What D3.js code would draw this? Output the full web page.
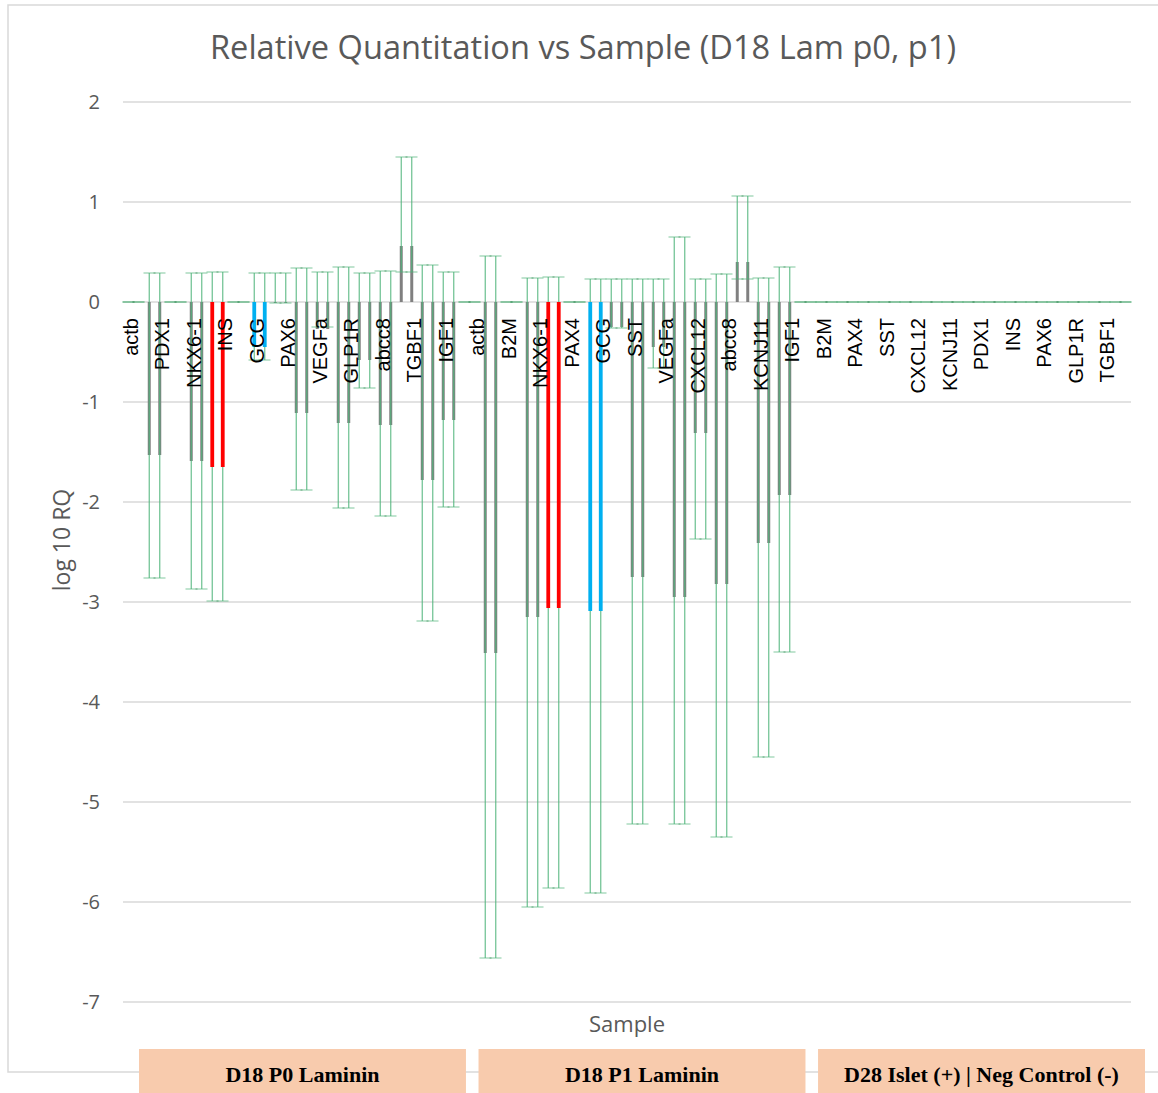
<!DOCTYPE html>
<html>
<head>
<meta charset="utf-8">
<script src="https://cdn.jsdelivr.net/npm/d3@7"></script>
<style>
  body { margin: 0; background: #fff; }
  svg { display: block; }
</style>
</head>
<body>
<svg id="chart" width="1158" height="1093"></svg>
<script>
// samples are the categories, genes are the series (16 per sample)
const samples = ["D18 P0 Laminin", "D18 P1 Laminin", "D28 Islet (+) | Neg Control (-)"];
const genes = ["actb", "PDX1", "B2M", "NKX6-1", "INS", "PAX4", "GCG", "SST",
               "PAX6", "VEGFa", "CXCL12", "GLP1R", "abcc8", "KCNJ11", "TGBF1", "IGF1"];

// log10 RQ and the RQ min / max ends of the error bars
const p0Value = [0, -1.53, 0, -1.59, -1.65, 0, -0.45, -0.01, -1.11, -0.27, -1.21, -0.58, -1.23, 0.56, -1.78, -1.18];
const p0Max   = [0, 0.29, 0, 0.29, 0.30, 0, 0.29, 0.29, 0.34, 0.30, 0.35, 0.29, 0.31, 1.45, 0.37, 0.30];
const p0Min   = [0, -2.76, 0, -2.87, -2.99, 0, -0.58, -0.01, -1.88, -0.25, -2.06, -0.86, -2.14, 0.30, -3.19, -2.05];

const p1Value = [0, -3.51, 0, -3.15, -3.06, 0, -3.09, -0.25, -2.75, -0.45, -2.95, -1.31, -2.82, 0.40, -2.41, -1.93];
const p1Max   = [0, 0.46, 0, 0.24, 0.25, 0, 0.23, 0.23, 0.23, 0.23, 0.65, 0.23, 0.28, 1.06, 0.24, 0.35];
const p1Min   = [0, -6.56, 0, -6.05, -5.86, 0, -5.91, -0.26, -5.22, -0.66, -5.22, -2.37, -5.35, 0.23, -4.55, -3.50];

const ctrlValue = [0, 0, 0, 0, 0, 0, 0, 0, 0, 0, 0, 0, 0, 0, 0, 0];
const ctrlMax   = [0, 0, 0, 0, 0, 0, 0, 0, 0, 0, 0, 0, 0, 0, 0, 0];
const ctrlMin   = [0, 0, 0, 0, 0, 0, 0, 0, 0, 0, 0, 0, 0, 0, 0, 0];

// gene labels along the axis
const geneLabels = ["actb", "PDX1", "NKX6-1", "INS", "GCG", "PAX6", "VEGFa", "GLP1R", "abcc8", "TGBF1", "IGF1",
                    "actb", "B2M", "NKX6-1", "PAX4", "GCG", "SST", "VEGFa", "CXCL12", "abcc8", "KCNJ11", "IGF1",
                    "B2M", "PAX4", "SST", "CXCL12", "KCNJ11", "PDX1", "INS", "PAX6", "GLP1R", "TGBF1"];

const yTicks = [2, 1, 0, -1, -2, -3, -4, -5, -6, -7];

const values = [p0Value, p1Value, ctrlValue];
const maxes = [p0Max, p1Max, ctrlMax];
const mins = [p0Min, p1Min, ctrlMin];

let rows = [];
samples.forEach((s, i) => {
	genes.forEach((g, j) => {
		rows.push({sample: s, gene: g, value: values[i][j], hi: maxes[i][j], lo: mins[i][j]});
	});
});

const svg = d3.select("#chart");

const x0 = d3.scaleBand()
	.domain(samples)
	.range([123, 1131]);

const x1 = d3.scaleBand()
	.domain(genes)
	.range([0, x0.bandwidth()])
	.paddingInner(0.5)
	.paddingOuter(0.25);

const y = d3.scaleLinear()
	.domain([-7, 2])
	.range([1002, 102]);

const xLabel = d3.scaleBand()
	.domain(d3.range(geneLabels.length))
	.range([123, 1131]);

const boxX = d3.scaleBand()
	.domain(samples)
	.range([139, 1145])
	.paddingInner(0.037);

const edgeColor = g => g === "INS" ? "#ff0000" : g === "GCG" ? "#00b0f0" : "#808080";
const isGray = g => g !== "INS" && g !== "GCG";

// chart border
svg.append("rect")
	.attr("x", 8).attr("y", 5)
	.attr("width", 1170).attr("height", 1067)
	.attr("fill", "none")
	.attr("stroke", "#d9d9d9")
	.attr("stroke-width", 1.5);

// title
svg.append("text")
	.attr("x", 583).attr("y", 59)
	.attr("text-anchor", "middle")
	.attr("textLength", 746)
	.attr("lengthAdjust", "spacingAndGlyphs")
	.style("font-family", "'Open Sans', sans-serif")
	.style("font-size", "32px")
	.style("fill", "#595959")
	.text("Relative Quantitation vs Sample (D18 Lam p0, p1)");

// gridlines
svg.append("g")
	.selectAll("line")
	.data(yTicks)
	.enter()
	.append("line")
	.attr("x1", 123).attr("x2", 1131)
	.attr("y1", d => y(d)).attr("y2", d => y(d))
	.attr("stroke", "#d9d9d9")
	.attr("stroke-width", 1.5);

// y axis labels
const yAxis = svg.append("g")
	.attr("transform", "translate(123,0)")
	.call(d3.axisLeft(y).tickValues(yTicks).tickFormat(d => String(d)).tickSize(0).tickPadding(23));
yAxis.select(".domain").remove();
yAxis.selectAll("text")
	.style("font-family", "'Open Sans', sans-serif")
	.style("font-size", "20px")
	.style("fill", "#595959");

let eb = svg.append("g")
	.selectAll("g")
	.data(rows)
	.enter()
	.append("g")
	.attr("transform", d => "translate(" + (x0(d.sample) + x1(d.gene)) + ",0)");

const edges = [0, x1.bandwidth()];

// gray bar edges (under the error lines)
edges.forEach(dx => {
	eb.filter(d => d.value !== 0 && isGray(d.gene))
		.append("line")
		.attr("x1", dx).attr("x2", dx)
		.attr("y1", y(0)).attr("y2", d => y(d.value))
		.attr("stroke", "#808080")
		.attr("stroke-width", 3);
});

// error bars: two thin lines at the bar edges
edges.forEach(dx => {
	eb.append("line")
		.attr("x1", dx).attr("x2", dx)
		.attr("y1", d => y(d.hi)).attr("y2", d => y(d.lo))
		.attr("stroke", "#4fb47a")
		.attr("stroke-opacity", 0.85)
		.attr("stroke-width", 1.2);
});

// coloured bar edges
edges.forEach(dx => {
	eb.filter(d => d.value !== 0 && !isGray(d.gene))
		.append("line")
		.attr("x1", dx).attr("x2", dx)
		.attr("y1", y(0)).attr("y2", d => y(d.value))
		.attr("stroke", d => edgeColor(d.gene))
		.attr("stroke-width", 3.8);
});

// caps
["hi", "lo"].forEach(k => {
	eb.append("line")
		.attr("x1", x1.bandwidth() / 2 - 11).attr("x2", x1.bandwidth() / 2 + 11)
		.attr("y1", d => y(d[k])).attr("y2", d => y(d[k]))
		.attr("stroke", "#4fb47a")
		.attr("stroke-opacity", 0.6)
		.attr("stroke-width", 1.2);
	eb.append("line")
		.attr("x1", x1.bandwidth() / 2 - 1).attr("x2", x1.bandwidth() / 2 + 1)
		.attr("y1", d => y(d[k])).attr("y2", d => y(d[k]))
		.attr("stroke", "#3d8f5e")
		.attr("stroke-opacity", 0.6)
		.attr("stroke-width", 1.2);
});

// gene labels
svg.append("g")
	.selectAll("text")
	.data(geneLabels)
	.enter()
	.append("text")
	.attr("transform", (d, i) => "translate(" + (xLabel(i) + xLabel.bandwidth() / 4) + "," + (y(0) + 16) + ") rotate(-90)")
	.attr("text-anchor", "end")
	.attr("dominant-baseline", "central")
	.style("font-family", "'Liberation Sans', Arial, sans-serif")
	.style("font-size", "20px")
	.style("fill", "#000")
	.text(d => d);

// axis titles
svg.append("text")
	.attr("transform", "translate(70,540) rotate(-90)")
	.attr("text-anchor", "middle")
	.style("font-family", "'Open Sans', sans-serif")
	.style("font-size", "23px")
	.style("fill", "#595959")
	.text("log 10 RQ");

svg.append("text")
	.attr("x", 627).attr("y", 1032)
	.attr("text-anchor", "middle")
	.style("font-family", "'Open Sans', sans-serif")
	.style("font-size", "22px")
	.style("fill", "#595959")
	.text("Sample");

// sample boxes
let box = svg.append("g")
	.selectAll("g")
	.data(samples)
	.enter()
	.append("g");

box.append("rect")
	.attr("x", d => boxX(d))
	.attr("y", 1049)
	.attr("width", boxX.bandwidth())
	.attr("height", 60)
	.attr("fill", "#f8cbad");

box.append("text")
	.attr("x", d => boxX(d) + boxX.bandwidth() / 2)
	.attr("y", 1082)
	.attr("text-anchor", "middle")
	.style("font-family", "'Liberation Serif', serif")
	.style("font-weight", "bold")
	.style("font-size", "22px")
	.style("fill", "#000")
	.text(d => d);
</script>
</body>
</html>
